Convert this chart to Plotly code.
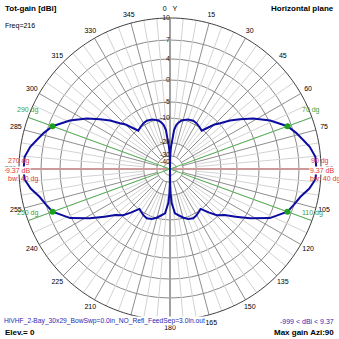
import plotly.graph_objects as go
import numpy as np

# ---- radial scale (dBi tick values and their radius on the chart, log-like ARRL scale)
DB_TICKS = [10, 7, 4, 0, -5, -10, -20, -30, -40]
DB_TICK_TEXT = ["10", "7", "4", "0", "-5", "-10", "-20", "-30", "-40"]
R_TICKS = [151, 129, 110, 89, 67, 51, 26.3, 13.3, 6.3]

# ---- angular ticks
ANG_TICKS = list(range(0, 360, 15))
ANG_TEXT = ["0\u00a0\u00a0\u00a0Y"] + [str(a) for a in ANG_TICKS[1:]]
ANG_LABEL_R = 159.5
R_RANGE = 163

# ---- total gain pattern (dBi) vs azimuth
AZ_RIGHT = [0, 1, 2, 3, 4.5, 6, 8, 10, 13, 16, 20, 25.8, 30, 35, 39.6, 42, 45, 47.6, 51,
            54.6, 58.7, 64.2, 70, 74, 77.7, 81, 85.2, 90, 94, 98, 102, 106, 110, 116.2,
            121.6, 126, 130, 134.6, 138, 140.9, 142.6, 146, 150, 154.7, 160, 164.6,
            168, 173.6, 177.2, 178.5, 179.3, 180]
GAIN_RIGHT = [-60, -33, -26, -22, -18.9, -14.8, -12.8, -11.7, -10.6, -10.0, -9.5, -9.2,
              -9.4, -9.9, -10.5, -8.8, -6.3, -4.8, -2.7, -0.7, 1.6, 4.2, 6.37, 7.3, 8.0,
              8.7, 9.3, 9.37, 9.3, 8.6, 7.6, 7.0, 6.37, 4.2, 0.95, -1.8, -4.0, -5.4,
              -7.6, -9.4, -10.3, -9.8, -9.3, -8.9, -9.3, -10.2, -11.2, -12.6, -16.8,
              -21, -28, -60]
AZ_LEFT = [180, 180.7, 181.5, 182.8, 186.4, 192, 195.4, 200, 205.3, 210, 214, 217.4,
           219.1, 222, 225.4, 230, 234, 238.4, 243.8, 250, 254, 258, 262, 266, 270, 274.8,
           279, 282.3, 286, 290, 295.8, 301.3, 305.4, 309, 312.4, 315, 318, 320.4, 325,
           330, 334.2, 340, 344, 347, 350, 352, 354, 355.5, 357, 358, 359, 360]
GAIN_LEFT = [-60, -28, -21, -16.8, -12.6, -11.2, -10.2, -9.3, -8.9, -9.3, -9.8, -10.3,
             -9.4, -7.6, -5.4, -4.0, -1.8, 0.95, 4.2, 6.37, 7.0, 7.6, 8.6, 9.3, 9.37, 9.3,
             8.7, 8.0, 7.3, 6.37, 4.2, 1.6, -0.7, -2.7, -4.8, -6.3, -8.8, -10.5, -9.9,
             -9.4, -9.2, -9.5, -10.0, -10.6, -11.7, -12.8, -14.8, -18.9, -22, -26, -33,
             -60]

MAX_GAIN = 9.37
BW_EDGES = [70, 110, 250, 290]
HALF_POWER = MAX_GAIN - 3.0


def db_to_r(v):
    xs = [-60] + DB_TICKS[::-1]
    ys = [0] + R_TICKS[::-1]
    return np.interp(np.asarray(v, dtype=float), xs, ys)


R_OUT = R_TICKS[0]
FONT = "Liberation Sans, Arial, sans-serif"

fig = go.Figure()

# spokes every 5 degrees (minor light, major every 15 darker)
minor_t, minor_r, major_t, major_r = [], [], [], []
for a in range(0, 360, 5):
    if a % 90 == 0:
        continue
    if a % 15 == 0:
        major_t += [a, a, None]
        major_r += [R_TICKS[7], R_OUT, None]
    else:
        minor_t += [a, a, None]
        minor_r += [R_TICKS[6], R_OUT, None]
fig.add_trace(go.Scatterpolar(theta=minor_t, r=minor_r, mode="lines",
                              line=dict(color="#d2d2d2", width=1), hoverinfo="skip"))
fig.add_trace(go.Scatterpolar(theta=major_t, r=major_r, mode="lines",
                              line=dict(color="#8e8e8e", width=1), hoverinfo="skip"))

# outer rim (10 dBi circle)
rim_t = list(range(0, 361))
fig.add_trace(go.Scatterpolar(theta=rim_t, r=[R_OUT] * len(rim_t), mode="lines",
                              line=dict(color="#3c3c3c", width=1), hoverinfo="skip"))

# vertical (0-180) axis
fig.add_trace(go.Scatterpolar(theta=[0, 0, 180], r=[R_OUT, 0, R_OUT], mode="lines",
                              line=dict(color="#a0a0a0", width=2), hoverinfo="skip"))
# max gain direction line (90-270)
fig.add_trace(go.Scatterpolar(theta=[90, 90, 270], r=[R_OUT, 0, R_OUT], mode="lines",
                              line=dict(color="#cc9a9a", width=2), hoverinfo="skip"))
# beamwidth lines
bw_t, bw_r = [], []
for a in BW_EDGES:
    bw_t += [a, a, None]
    bw_r += [0, R_OUT, None]
fig.add_trace(go.Scatterpolar(theta=bw_t, r=bw_r, mode="lines",
                              line=dict(color="#55b055", width=1), hoverinfo="skip"))

# pattern
fig.add_trace(go.Scatterpolar(theta=AZ_RIGHT, r=db_to_r(GAIN_RIGHT), mode="lines",
                              line=dict(color="#0c0ca0", width=2)))
fig.add_trace(go.Scatterpolar(theta=AZ_LEFT, r=db_to_r(GAIN_LEFT), mode="lines",
                              line=dict(color="#0c0ca0", width=2)))

# half-power points
fig.add_trace(go.Scatterpolar(theta=BW_EDGES, r=db_to_r([HALF_POWER] * 4), mode="markers",
                              marker=dict(color="#1ea01e", size=6)))

# radial tick labels
fig.add_trace(go.Scatterpolar(theta=[0] * len(R_TICKS), r=R_TICKS, mode="text",
                              text=DB_TICK_TEXT, textposition="middle left",
                              textfont=dict(family=FONT, size=7, color="#202020")))

# angular tick labels, centred just outside the rim
fig.add_trace(go.Scatterpolar(theta=ANG_TICKS, r=[ANG_LABEL_R] * len(ANG_TICKS),
                              mode="text", text=ANG_TEXT, textposition="middle center",
                              cliponaxis=False,
                              textfont=dict(family=FONT, size=7, color="black")))

CX, CY_TOP = 170, 169
fig.update_layout(
    width=339, height=339,
    margin=dict(l=0, r=0, t=0, b=0),
    paper_bgcolor="white",
    showlegend=False,
    polar=dict(
        domain=dict(x=[(CX - R_RANGE) / 339, (CX + R_RANGE) / 339],
                    y=[(339 - CY_TOP - R_RANGE) / 339, (339 - CY_TOP + R_RANGE) / 339]),
        bgcolor="rgba(0,0,0,0)",
        angularaxis=dict(rotation=90, direction="clockwise", tickmode="array",
                         tickvals=ANG_TICKS, showticklabels=False, showgrid=False,
                         showline=False, ticks=""),
        radialaxis=dict(range=[0, R_RANGE], tickmode="array", tickvals=R_TICKS[1:],
                        showticklabels=False, showgrid=True, gridcolor="#8a8a8a",
                        gridwidth=1, showline=False, ticks=""),
    ),
)

red = "#e03a3a"
green = "#3ea03e"
blue = "#2a2ab4"


def ann(x, y, text, color="black", size=7, bold=False, xanchor="left", bg=None):
    if bold:
        text = "<b>" + text + "</b>"
    d = dict(x=x / 339, y=1 - y / 339, xref="paper", yref="paper", text=text,
             showarrow=False, xanchor=xanchor, yanchor="middle",
             font=dict(family=FONT, size=size, color=color))
    if bg:
        d["bgcolor"] = bg
        d["borderpad"] = 0
    fig.add_annotation(**d)


ann(3, 8, "Tot-gain [dBi]", size=8, bold=True)
ann(3, 26, "Freq=216")
ann(336, 8, "Horizontal plane", size=8, bold=True, xanchor="right")
ann(3, 321, "HiVHF_2-Bay_30x29_BowSwp=0.0in_NO_Refl_FeedSep=3.0in.out", color=blue,
    size=6.7, bg="white")
ann(3, 332, "Elev.= 0", size=8, bold=True)
ann(336, 321, "-999 &lt; dBi &lt; 9.37", color=blue, xanchor="right")
ann(336, 332, "Max gain Azi:90", size=8, bold=True, xanchor="right")

ann(6, 161, "270 dg", color=red)
ann(5, 170, "9.37 dB", color=red, bg="white")
ann(6, 179, "bw: 40 dg", color=red)
ann(309, 161, "90 dg", color=red)
ann(309, 170, "9.37 dB", color=red, bg="white")
ann(308, 179, "bw: 40 dg", color=red)

ann(15, 110, "290 dg", color=green)
ann(15, 213, "250 dg", color=green)
ann(300, 110, "70 dg", color=green)
ann(300, 213, "110 dg", color=green)

fig.write_html("out.html")
